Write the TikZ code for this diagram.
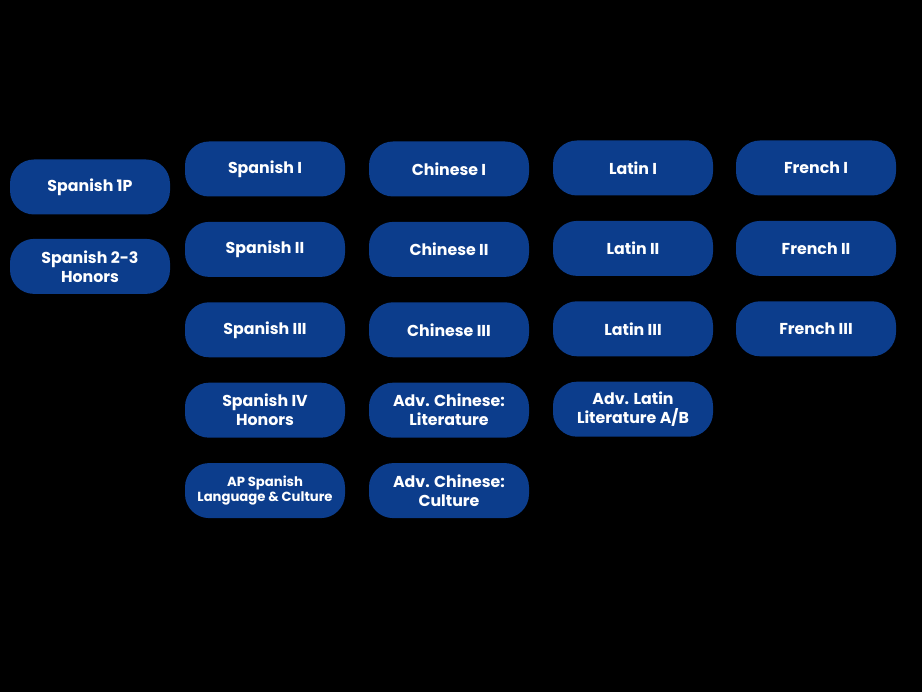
\documentclass[tikz,border=0pt]{standalone}
\usepackage{fontspec}
\newfontfamily\poppins{Poppins}
\usetikzlibrary{positioning}
\definecolor{coursebg}{HTML}{0C3D8C}

\begin{document}
\begin{tikzpicture}[
			x=1pt, y=-1pt,
			node distance=25pt,
			course/.style={fill=coursebg, rounded corners=24pt, text=white, align=center,
				font=\poppins\bfseries\fontsize{15.8}{19}\selectfont, minimum height=55pt, minimum width=160pt, inner sep=2pt},
			small/.style={course, font=\poppins\bfseries\fontsize{13.2}{15}\selectfont}
		]
		\fill[black] (0,0) rectangle (922,692);
		\useasboundingbox (0,0) rectangle (922,692);
		% Spanish entry courses
		\node[course] (sp1p) at (90,187) {Spanish 1P};
		\node[course, below=24pt of sp1p] (sp23) {Spanish 2-3\\Honors};
		% Spanish
		\node[course] (sp1) at (265,169) {Spanish I};
		\node[course, below=of sp1] (sp2) {Spanish II};
		\node[course, below=of sp2] (sp3) {Spanish III};
		\node[course, below=of sp3] (sp4) {Spanish IV\\Honors};
		\node[small, below=of sp4] (apsp) {AP Spanish\\Language \& Culture};
		% Chinese
		\node[course] (ch1) at (449,169) {Chinese I};
		\node[course, below=of ch1] (ch2) {Chinese II};
		\node[course, below=of ch2] (ch3) {Chinese III};
		\node[course, below=of ch3] (chlit) {Adv. Chinese:\\Literature};
		\node[course, below=of chlit] (chcul) {Adv. Chinese:\\Culture};
		% Latin
		\node[course] (la1) at (633,168) {Latin I};
		\node[course, below=of la1] (la2) {Latin II};
		\node[course, below=of la2] (la3) {Latin III};
		\node[course, below=of la3] (lalit) {Adv. Latin\\Literature A/B};
		% French
		\node[course] (fr1) at (816,168) {French I};
		\node[course, below=of fr1] (fr2) {French II};
		\node[course, below=of fr2] (fr3) {French III};
	\end{tikzpicture}
\end{document}
